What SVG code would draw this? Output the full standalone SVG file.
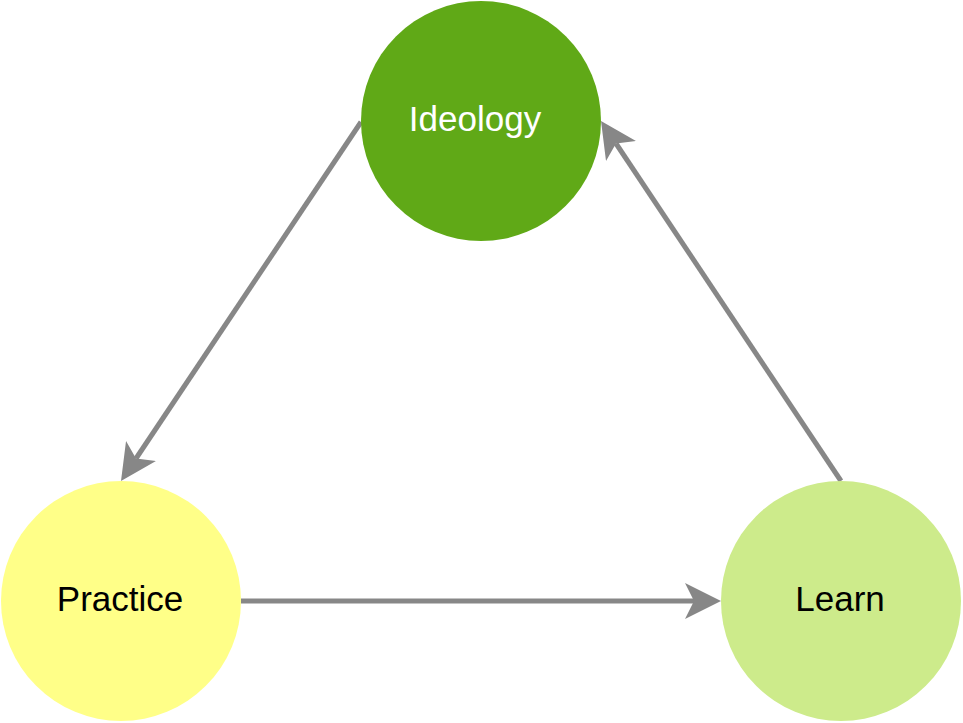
<svg xmlns="http://www.w3.org/2000/svg" width="963" height="723" viewBox="0 0 963 723">
<defs>
<style>
.lbl{font-family:"Liberation Sans",Arial,sans-serif;font-size:35px;text-anchor:middle}
.edge{stroke:#878787;stroke-width:5;fill:none}
</style>
<marker id="arr" markerUnits="userSpaceOnUse" viewBox="0 -18 36 36" markerWidth="36" markerHeight="36" refX="9" refY="0" orient="auto">
<path d="M0,-18 L36,0 L0,18 L9,0 Z" fill="#878787"/>
</marker>
</defs>
<rect width="963" height="723" fill="#ffffff"/>
<g id="connectors">
<line class="edge" x1="361" y1="122" x2="136" y2="458.5" marker-end="url(#arr)"/>
<line class="edge" x1="241" y1="601" x2="694" y2="601" marker-end="url(#arr)"/>
<line class="edge" x1="841" y1="481" x2="616" y2="143.5" marker-end="url(#arr)"/>
</g>
<g id="ideology">
<circle cx="481" cy="121" r="120" fill="#60a917"/>
<text class="lbl" x="475" y="131" fill="#ffffff">Ideology</text>
</g>
<g id="practice">
<circle cx="121" cy="601" r="120" fill="#ffff88"/>
<text class="lbl" x="120" y="611" fill="#000000">Practice</text>
</g>
<g id="learn">
<circle cx="841" cy="601" r="120" fill="#cdeb8b"/>
<text class="lbl" x="840" y="611" fill="#000000">Learn</text>
</g>
</svg>
